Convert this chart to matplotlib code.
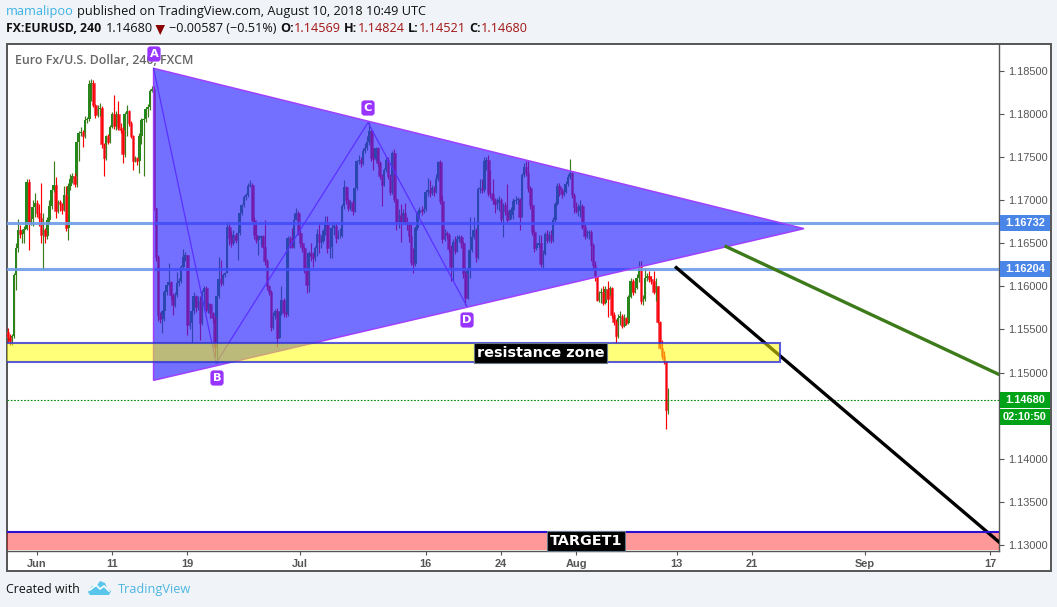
import matplotlib
matplotlib.use("Agg")
import matplotlib.pyplot as plt
import numpy as np
from matplotlib.patches import Rectangle, Polygon, FancyBboxPatch
from matplotlib.transforms import Affine2D

# prices as 4 digit integers, 11534 = 1.1534
first_open = 11547
closes = [
    11541, 11537, 11542, 11613, 11645, 11665, 11661, 11665, 11667, 11721,
    11673, 11678, 11692, 11697, 11685, 11679, 11660, 11665, 11658, 11677,
    11693, 11712, 11718, 11688, 11698, 11695, 11689, 11706, 11668, 11716,
    11725, 11728, 11719, 11767, 11778, 11779, 11775, 11793, 11794, 11835,
    11836, 11810, 11799, 11806, 11807, 11765, 11749, 11774, 11768, 11785,
    11800, 11786, 11800, 11784, 11782, 11754, 11800, 11803, 11790, 11775,
    11746, 11749, 11746, 11775, 11793, 11794, 11806, 11808, 11827, 11829,
    11691, 11634, 11567, 11562, 11571, 11594, 11602, 11605, 11590, 11578,
    11590, 11604, 11606, 11623, 11634, 11636, 11555, 11557, 11571, 11589,
    11576, 11583, 11558, 11594, 11598, 11573, 11580, 11569, 11563, 11530,
    11589, 11609, 11604, 11613, 11615, 11669, 11656, 11650, 11660, 11654,
    11662, 11685, 11694, 11704, 11706, 11716, 11718, 11677, 11660, 11654,
    11656, 11658, 11646, 11629, 11600, 11594, 11553, 11566, 11572, 11540,
    11569, 11584, 11569, 11568, 11656, 11647, 11646, 11677, 11685, 11662,
    11650, 11644, 11619, 11602, 11639, 11635, 11633, 11645, 11661, 11652,
    11653, 11664, 11673, 11645, 11646, 11668, 11670, 11656, 11658, 11659,
    11693, 11715, 11700, 11691, 11698, 11687, 11714, 11745, 11747, 11743,
    11757, 11760, 11768, 11780, 11749, 11748, 11760, 11743, 11728, 11718,
    11735, 11747, 11728, 11709, 11755, 11701, 11675, 11683,
    11675, 11685, 11674, 11672, 11658, 11628, 11626, 11668, 11685, 11689,
    11687, 11690, 11710, 11712, 11708, 11714, 11710, 11724, 11744, 11699,
    11655, 11662, 11660, 11643, 11623, 11651, 11641, 11655, 11657, 11650,
    11615, 11587, 11619, 11642, 11657, 11665, 11634, 11713, 11714, 11712,
    11746, 11747, 11708, 11707, 11700, 11695, 11697, 11700, 11678, 11694,
    11688, 11677, 11683, 11689, 11699, 11700, 11701, 11681, 11729, 11739,
    11731, 11714, 11694, 11663, 11644, 11648, 11650, 11626, 11638, 11661,
    11654, 11660, 11654, 11677, 11696, 11717, 11712, 11707, 11710, 11719,
    11727, 11731, 11706, 11692, 11688, 11692, 11693, 11669, 11659,
    11662, 11663, 11648, 11625, 11612, 11584, 11592, 11594, 11581, 11597,
    11585, 11598, 11567, 11559, 11543, 11563, 11566, 11554, 11563,
    11558, 11588, 11606, 11594, 11598, 11610, 11623, 11583, 11585, 11610,
    11612, 11608, 11606, 11594, 11600, 11559, 11529, 11519, 11513,
    11457, 11468,
]
highs = [
    11552, 11545, 11545, 11615, 11650, 11678, 11671, 11667, 11670, 11725,
    11725, 11682, 11700, 11708, 11700, 11695, 11720, 11685, 11668, 11680,
    11700, 11715, 11745, 11727, 11700, 11700, 11697, 11717, 11717, 11720,
    11730, 11731, 11731, 11772, 11780, 11785, 11782, 11798, 11796, 11840,
    11841, 11840, 11812, 11810, 11813, 11809, 11766, 11776, 11777, 11787,
    11802, 11822, 11803, 11815, 11790, 11785, 11802, 11810, 11805, 11792,
    11776, 11751, 11750, 11778, 11795, 11796, 11808, 11812, 11829, 11832,
    11832, 11691, 11636, 11570, 11573, 11596, 11604, 11627, 11606, 11592,
    11593, 11617, 11610, 11625, 11643, 11640, 11636, 11569, 11573, 11594,
    11590, 11589, 11589, 11596, 11600, 11601, 11582, 11581, 11570, 11566,
    11591, 11634, 11631, 11616, 11617, 11675, 11675, 11664, 11665, 11662,
    11664, 11687, 11696, 11706, 11708, 11720, 11723, 11720, 11680, 11672,
    11658, 11660, 11660, 11677, 11632, 11602, 11596, 11570, 11574, 11575,
    11571, 11600, 11586, 11572, 11658, 11658, 11668, 11685, 11691, 11687,
    11665, 11652, 11646, 11622, 11641, 11650, 11640, 11647, 11666, 11672,
    11660, 11666, 11682, 11682, 11655, 11675, 11675, 11672, 11665, 11668,
    11696, 11723, 11717, 11703, 11700, 11700, 11716, 11747, 11752, 11750,
    11760, 11766, 11775, 11791, 11782, 11761, 11762, 11762, 11745, 11730,
    11737, 11751, 11750, 11730, 11757, 11759, 11703, 11690,
    11696, 11690, 11697, 11680, 11675, 11672, 11645, 11670, 11688, 11692,
    11693, 11692, 11712, 11726, 11723, 11718, 11716, 11730, 11746, 11747,
    11705, 11666, 11664, 11662, 11648, 11655, 11658, 11660, 11660, 11660,
    11652, 11617, 11621, 11681, 11660, 11680, 11668, 11715, 11724, 11724,
    11750, 11750, 11752, 11735, 11725, 11703, 11702, 11705, 11703, 11697,
    11698, 11719, 11690, 11692, 11702, 11705, 11704, 11702, 11731, 11743,
    11746, 11745, 11716, 11696, 11665, 11650, 11660, 11660, 11642, 11663,
    11665, 11664, 11665, 11680, 11698, 11720, 11720, 11714, 11715, 11722,
    11730, 11748, 11733, 11708, 11698, 11695, 11700, 11695, 11672,
    11665, 11665, 11665, 11650, 11630, 11612, 11595, 11598, 11600, 11600,
    11606, 11601, 11599, 11570, 11562, 11568, 11571, 11568, 11568,
    11565, 11590, 11610, 11608, 11601, 11614, 11629, 11629, 11590, 11620,
    11615, 11618, 11612, 11618, 11610, 11601, 11560, 11538, 11525,
    11514, 11482,
]
lows = [
    11535, 11532, 11532, 11540, 11596, 11640, 11656, 11650, 11650, 11665,
    11642, 11671, 11670, 11680, 11680, 11670, 11650, 11620, 11650, 11655,
    11672, 11690, 11710, 11679, 11685, 11688, 11684, 11688, 11664, 11654,
    11712, 11720, 11715, 11715, 11745, 11775, 11762, 11772, 11790, 11792,
    11815, 11808, 11795, 11796, 11798, 11760, 11728, 11747, 11765, 11766,
    11784, 11783, 11782, 11781, 11778, 11743, 11750, 11775, 11786, 11772,
    11735, 11744, 11741, 11731, 11765, 11728, 11791, 11796, 11805, 11825,
    11689, 11630, 11560, 11557, 11546, 11560, 11590, 11600, 11585, 11567,
    11576, 11588, 11600, 11604, 11620, 11630, 11544, 11550, 11534, 11568,
    11570, 11573, 11538, 11555, 11573, 11570, 11569, 11563, 11558, 11518,
    11511, 11587, 11600, 11602, 11611, 11615, 11648, 11646, 11648, 11650,
    11631, 11660, 11683, 11692, 11700, 11704, 11715, 11675, 11655, 11650,
    11636, 11648, 11644, 11625, 11596, 11590, 11548, 11550, 11562, 11530,
    11540, 11567, 11565, 11565, 11566, 11644, 11644, 11645, 11677, 11660,
    11646, 11640, 11615, 11592, 11594, 11630, 11623, 11630, 11635, 11639,
    11645, 11650, 11660, 11639, 11633, 11633, 11660, 11650, 11655, 11656,
    11657, 11690, 11695, 11688, 11689, 11683, 11686, 11712, 11742, 11738,
    11741, 11755, 11758, 11764, 11745, 11735, 11746, 11740, 11724, 11693,
    11716, 11733, 11725, 11706, 11707, 11698, 11665, 11668,
    11652, 11672, 11672, 11665, 11652, 11625, 11615, 11624, 11665, 11680,
    11683, 11685, 11688, 11705, 11704, 11706, 11705, 11708, 11722, 11695,
    11650, 11653, 11655, 11640, 11606, 11606, 11638, 11640, 11652, 11645,
    11610, 11578, 11585, 11610, 11640, 11655, 11628, 11632, 11708, 11708,
    11710, 11735, 11705, 11703, 11695, 11685, 11690, 11688, 11675, 11657,
    11683, 11675, 11680, 11678, 11678, 11695, 11696, 11665, 11680, 11727,
    11728, 11710, 11690, 11660, 11640, 11642, 11645, 11623, 11621, 11636,
    11650, 11652, 11650, 11652, 11675, 11694, 11705, 11702, 11705, 11708,
    11717, 11725, 11703, 11685, 11685, 11682, 11680, 11666, 11655,
    11656, 11655, 11630, 11620, 11606, 11583, 11582, 11581, 11578, 11580,
    11565, 11590, 11563, 11555, 11534, 11540, 11555, 11552, 11553,
    11555, 11556, 11586, 11590, 11592, 11597, 11605, 11580, 11578, 11583,
    11606, 11605, 11603, 11591, 11583, 11557, 11527, 11516, 11510,
    11434, 11452,
]

price_ticks = [1.130, 1.135, 1.140, 1.150, 1.155, 1.160, 1.165, 1.170, 1.175, 1.180, 1.185]
date_ticks = [14, 50, 86, 140, 200, 236, 272, 320, 356, 410, 470]
date_labels = ['Jun', '11', '19', 'Jul', '16', '24', 'Aug', '13', '21', 'Sep', '17']

level_1 = 1.16732
level_2 = 1.16204
last_price = 1.14680
triangle = [(69.8, 1.1853), (381, 1.1667), (69.8, 1.1491)]
pattern_a = (69.8, 1.1853)
pattern_b = (99.7, 1.1511)
pattern_c = (172.4, 1.1790)
pattern_d = (219.7, 1.1577)
resistance_zone = (1.1512, 1.1534, 369.3)
target_zone = (1.1294, 1.1315)
black_line = [(319.3, 1.1623), (475, 1.1302)]
green_line = [(343, 1.1647), (475, 1.1497)]

W, H = 1057, 607
BG = '#f0f3f7'
GREY = '#555555'

fig = plt.figure(figsize=(W / 100, H / 100), dpi=100, facecolor=BG)
px = Affine2D().scale(1, -1).translate(0, H)  # pixel coords, y down

# outer frame
fig.add_artist(Rectangle((6.5, 43.5), 1044, 527, transform=px, fc='white', ec=GREY, lw=1.4, zorder=-1))

ax = fig.add_axes([7 / W, (H - 551) / H, 992 / W, 507 / H], facecolor='none')
ax.set_xlim(-0.33, 474.3)
ax.set_ylim(1.1293, 1.18812)

o = np.array([first_open] + closes[:-1]) / 1e4
c = np.array(closes) / 1e4
h = np.array(highs) / 1e4
l = np.array(lows) / 1e4
x = np.arange(len(c))
up = c >= o
print(len(closes), len(highs), len(lows))

# candles
ax.bar(x[up], (c - o)[up], bottom=o[up], width=1.25, color='#1c8c1c', lw=0, zorder=2)
ax.bar(x[~up], (c - o)[~up], bottom=o[~up], width=1.25, color='#ff1a1a', ec='#f0506e', lw=0.5, zorder=2)
ax.vlines(x[up], l[up], h[up], color='#3a7d1a', lw=0.85, zorder=3)
ax.vlines(x[~up], l[~up], h[~up], color='#ff0000', lw=0.85, zorder=3)

# levels
for lev in (level_1, level_2):
    ax.axhline(lev, color='#6f9be8', lw=2.2, alpha=0.9, zorder=4)
ax.axhline(last_price, color='#008a00', lw=0.8, ls=(0, (1.5, 1.5)), zorder=4)

# triangle + abcd
ax.add_patch(Polygon(triangle, closed=True, fc=(0.17, 0.15, 1.0, 0.66), ec='#a040ff', lw=1.1, zorder=5))
abcd = [pattern_a, pattern_b, pattern_c, pattern_d]
ax.plot([p[0] for p in abcd], [p[1] for p in abcd], color='#5a30ff', lw=0.9, zorder=6)

# trend lines
ax.plot(*zip(*black_line), color='black', lw=2.4, zorder=6, solid_capstyle='butt')
ax.plot(*zip(*green_line), color='#3d7a1a', lw=2.4, zorder=6, solid_capstyle='butt')

# zones
bot, top, right = resistance_zone
ax.add_patch(Rectangle((-1, bot), right + 1, top - bot, fc=(1, 1, 0, 0.52), ec=(0.2, 0.2, 0.85, 0.8), lw=1.5, zorder=7))
bot, top = target_zone
ax.add_patch(Rectangle((-1, bot), 477, top - bot, fc=(1, 0, 0, 0.4), ec='none', zorder=5.5))
ax.hlines(top, -1, 476, color='#2a10d0', lw=1.5, zorder=7)

# zone labels
for label, xx, yy in [('resistance zone', 255, 1.1523), ('TARGET1', 276.8, 1.13045)]:
    ax.text(xx, yy, label, color='white', fontsize=10.4, fontweight='bold', family='DejaVu Sans',
            ha='center', va='center', zorder=9,
            bbox=dict(fc='black', ec='#667788', lw=0.8, pad=2.2))

# pattern point labels
for name, xx, yy in [('A', 154, 54), ('B', 217, 378), ('C', 368, 108), ('D', 467, 320)]:
    fig.add_artist(FancyBboxPatch((xx - 5, yy - 6), 10, 12, boxstyle='round,pad=1.6,rounding_size=3',
                                  transform=px, fc='#9933ff', ec='none', zorder=10))
    fig.text(xx / W, 1 - yy / H, name, color='white', fontsize=8.2, fontweight='bold', family='DejaVu Sans',
             ha='center', va='center', zorder=11)

# axes look
for side in ('top', 'left'):
    ax.spines[side].set_visible(False)
for side in ('right', 'bottom'):
    ax.spines[side].set_color(GREY)
    ax.spines[side].set_linewidth(1.0)
ax.yaxis.tick_right()
ax.set_yticks(price_ticks)
ax.set_yticklabels(['%.5f' % p for p in price_ticks], family='Liberation Sans', fontsize=7.9, color=GREY)
ax.set_xticks(date_ticks)
ax.set_xticklabels(date_labels, family='Liberation Sans', fontsize=7.9, color=GREY, fontweight='bold')
ax.tick_params(axis='y', length=3.5, width=0.8, color=GREY, pad=3)
ax.tick_params(axis='x', length=3, width=0.8, color=GREY, pad=2.5)

# price tags on the axis
tags = [(level_1, '1.16732', '#4a86e8', 223), (level_2, '1.16204', '#4a86e8', 269),
        (last_price, '1.14680', '#00a317', 400), (None, '02:10:50', '#00a317', 417)]
for _, txt, col, yy in tags:
    fig.add_artist(Rectangle((999.5, yy - 8), 50.5, 16, transform=px, fc=col, ec='none', zorder=10))
    fig.text(1025 / W, 1 - (yy + 0.3) / H, txt, color='white', fontsize=7.9, fontweight='bold',
             family='Liberation Sans', ha='center', va='center', zorder=11)


def row(parts, x0, y, size=9.2):
    # strings laid out one after the other, in pixels
    r = fig.canvas.get_renderer()
    for txt, col, weight in parts:
        t = fig.text(x0 / W, 1 - y / H, txt, color=col, fontsize=size, fontweight=weight,
                     family='Open Sans', ha='left', va='center')
        x0 = t.get_window_extent(r).x1 if txt.strip() else x0 + 3.5


row([('mamalipoo', '#3bb3e4', 'normal'),
     (' ', 'k', 'normal'),
     ('published on TradingView.com, August 10, 2018 10:49 UTC', '#111111', 'normal')], 6, 11.5)
DR = '#a31515'
row([('FX:EURUSD, 240', '#111111', 'bold')], 6, 29, size=8.85)
row([('1.14680', '#111111', 'normal')], 106, 29)
fig.add_artist(Polygon([(155.5, 25), (165, 25), (160.2, 35)], transform=px, fc='#8b0000', ec='none'))
row([('\u22120.00587 (\u22120.51%)', '#111111', 'normal'), (' ', 'k', 'normal'),
     ('O:', '#111111', 'bold'), ('1.14569', DR, 'normal'), (' ', 'k', 'normal'),
     ('H:', '#111111', 'bold'), ('1.14824', DR, 'normal'), (' ', 'k', 'normal'),
     ('L:', '#111111', 'bold'), ('1.14521', DR, 'normal'), (' ', 'k', 'normal'),
     ('C:', '#111111', 'bold'), ('1.14680', DR, 'normal')], 169, 29, size=9.1)

fig.text(15 / W, 1 - 60.5 / H, 'Euro Fx/U.S. Dollar, 240, FXCM', color='#666666', fontsize=8.9,
         fontweight='semibold', family='Open Sans', ha='left', va='center', zorder=8)

# footer
fig.text(6 / W, 1 - 589.5 / H, 'Created with', color='#111111', fontsize=8.9, family='Open Sans', ha='left', va='center')
fig.text(118 / W, 1 - 589.5 / H, 'TradingView', color='#4db6e2', fontsize=9.2, family='Open Sans', ha='left', va='center')
cloud = [(88, 592), (92, 586), (96, 587), (100, 581), (105, 583), (107, 588), (111, 591), (109, 595), (90, 595)]
fig.add_artist(Polygon(cloud, transform=px, fc='#59c5ea', ec='none'))
fig.add_artist(matplotlib.lines.Line2D([90, 96, 100, 104, 109], [590, 585, 589, 586, 591], transform=px, color='white', lw=1.2))

fig.savefig('out.png', dpi=100, facecolor=BG)
